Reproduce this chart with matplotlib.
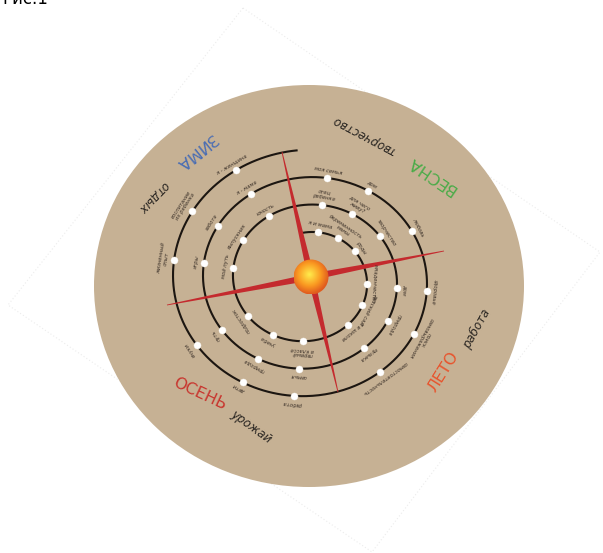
import numpy as np
import matplotlib
matplotlib.use("Agg")
import matplotlib.pyplot as plt
from matplotlib.patches import Ellipse, Polygon, Circle

# %% Data
# dots along the spiral: cumulative angle (deg, clockwise from top) and caption
dot_angles = [12, 34, 57, 94, 117, 141, 184, 210, 236, 280, 304, 331,
              370, 392, 417, 456, 479, 503, 545, 570, 597, 640, 663, 689,
              730, 752, 783, 816, 839, 864, 906, 930, 957, 999, 1023, 1049]
dot_labels = ["я и мама", "беременность\nмамы", "роды", "младенчество",
              "детский сад", "я в школе", "первый\nв классе", "учеба",
              "подросток", "мой путь", "выпускник", "юность",
              "отец\nребенка", "для чего\nживу?", "творчество", "дом",
              "природа", "музыка", "семья", "природа", "путь", "игры",
              "забота", "я - мама",
              "моя семья", "дом", "любовь", "здоровье", "поиск\nсамовыражения",
              "самостоятельность", "работа", "дети", "внуки",
              "жизненный\nопыт", "воспитание\nих ребенка", "я - женщина"]

season_names = ["ЗИМА", "ВЕСНА", "ЛЕТО", "ОСЕНЬ"]
season_colors = ["#4a6db3", "#4aab48", "#e8532c", "#c8352e"]
season_xy = [(195, 151), (432, 175), (443, 372), (200, 394)]
season_rot = [219, 146, 58, -25]
sub_names = ["отдых", "творчество", "работа", "урожай"]
sub_xy = [(154, 198), (364, 135), (477, 329), (251, 427)]
sub_rot = [226, 152, 61, -36]

# spiral geometry (pixels)
CX, CY = 307.5, 279.75
SX, SY = 30.0, 27.5
R0 = 1.73
SPIRAL_START, SPIRAL_END = -6, 1076

SUN = (311, 277)
SUN_R = 17.5
spike_tips = [(282, 152), (444, 251), (338, 392), (167, 305)]

DISC_COLOR = "#c6b194"
SPIKE_COLOR = "#c42a2e"


def spiral_xy(theta_deg):
    theta_deg = np.asarray(theta_deg, dtype=float)
    r = R0 + theta_deg / 360.0
    a = np.radians(theta_deg)
    return CX + SX * r * np.sin(a), CY - SY * r * np.cos(a)


# %% Figure
fig = plt.figure(figsize=(6.03, 5.53), dpi=100)
ax = fig.add_axes([0, 0, 1, 1])
ax.set_xlim(0, 603)
ax.set_ylim(553, 0)
ax.axis("off")

# faint background diamond
ax.add_patch(Polygon([(243, 8), (600, 252), (372, 552), (8, 305)], closed=True,
                     facecolor="white", edgecolor="#ececec", lw=0.8,
                     linestyle=(0, (1, 2)), zorder=0))

# beige disc
ax.add_patch(Ellipse((309, 286), 430, 402, facecolor=DISC_COLOR,
                     edgecolor="none", zorder=1))

# spiral
th = np.linspace(SPIRAL_START, SPIRAL_END, 1500)
sx, sy = spiral_xy(th)
ax.plot(sx, sy, color="#1c1611", lw=1.5, solid_capstyle="butt", zorder=2)

# red spikes
for tx, ty in spike_tips:
    dx, dy = tx - SUN[0], ty - SUN[1]
    L = np.hypot(dx, dy)
    nx, ny = -dy / L, dx / L
    w0, w1 = 3.4, 0.4
    poly = [(SUN[0] + nx * w0, SUN[1] + ny * w0), (tx + nx * w1, ty + ny * w1),
            (tx - nx * w1, ty - ny * w1), (SUN[0] - nx * w0, SUN[1] - ny * w0)]
    ax.add_patch(Polygon(poly, closed=True, facecolor=SPIKE_COLOR,
                         edgecolor="none", zorder=3))

# dots and captions
dx_, dy_ = spiral_xy(dot_angles)
ax.scatter(dx_, dy_, s=26, color="white", edgecolors="#f4efe6", linewidths=0.3,
           zorder=4)
for ang, x, y, lab in zip(dot_angles, dx_, dy_, dot_labels):
    a = np.radians(ang)
    nl = lab.count("\n") + 1
    off = 7.5 + 3.0 * (nl - 1)
    ax.text(x + off * np.sin(a), y - off * np.cos(a), lab, fontsize=3.8,
            style="italic", color="#3b3129", ha="center", va="center",
            rotation=-ang, rotation_mode="anchor", linespacing=1.0, zorder=5)

# sun with radial gradient
n = 200
yy, xx = np.mgrid[-1:1:n * 1j, -1:1:n * 1j]
rr = np.clip(np.hypot(xx + 0.12, yy + 0.12) / 1.1, 0, 1)
c_in = np.array([1.0, 0.93, 0.30])
c_mid = np.array([0.98, 0.60, 0.13])
c_out = np.array([0.88, 0.36, 0.12])
img = np.where(rr[..., None] < 0.6,
               c_in + (c_mid - c_in) * (rr[..., None] / 0.6),
               c_mid + (c_out - c_mid) * ((rr[..., None] - 0.6) / 0.4))
im = ax.imshow(img, extent=(SUN[0] - SUN_R, SUN[0] + SUN_R,
                            SUN[1] + SUN_R, SUN[1] - SUN_R),
               zorder=6, interpolation="bilinear")
clip = Circle(SUN, SUN_R, transform=ax.transData)
im.set_clip_path(clip)

# seasons
for name, col, (x, y), rot in zip(season_names, season_colors, season_xy, season_rot):
    ax.text(x, y, name, fontsize=11.5, color=col, ha="center", va="center",
            rotation=rot, rotation_mode="anchor", zorder=7)
for name, (x, y), rot in zip(sub_names, sub_xy, sub_rot):
    ax.text(x, y, name, fontsize=8.5, style="italic", color="#2a2622",
            ha="center", va="center", rotation=rot, rotation_mode="anchor",
            zorder=7)

# caption cut by the top edge, as in the source scan
ax.text(2, 4, "Рис.1", fontsize=12, color="black", ha="left", va="baseline")

fig.savefig("out.png", dpi=100)
